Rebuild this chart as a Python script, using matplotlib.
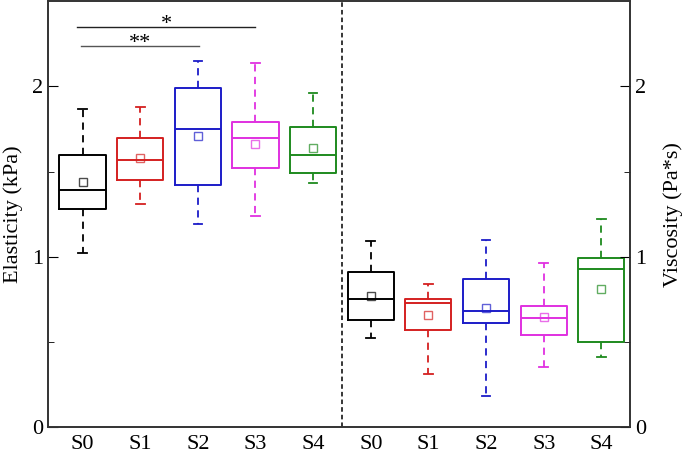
import matplotlib
matplotlib.use("Agg")
import matplotlib.pyplot as plt

plt.rcParams["font.family"] = ["Liberation Serif", "DejaVu Serif"]

groups = ["S0", "S1", "S2", "S3", "S4"]
colours = ["#000000", "#d42020", "#1c1cc8", "#e030e0", "#1e8a1e"]

# elasticity (kPa): whisker low, q1, median, q3, whisker high, mean
el_low = [1.02, 1.31, 1.19, 1.24, 1.43]
el_q1 = [1.28, 1.45, 1.42, 1.52, 1.49]
el_med = [1.39, 1.57, 1.75, 1.70, 1.60]
el_q3 = [1.60, 1.70, 1.99, 1.79, 1.76]
el_high = [1.87, 1.88, 2.15, 2.14, 1.96]
el_mean = [1.44, 1.58, 1.71, 1.66, 1.64]

# viscosity (Pa*s)
vi_low = [0.52, 0.31, 0.18, 0.35, 0.41]
vi_q1 = [0.63, 0.57, 0.61, 0.54, 0.50]
vi_med = [0.75, 0.73, 0.68, 0.64, 0.93]
vi_q3 = [0.91, 0.75, 0.87, 0.71, 0.99]
vi_high = [1.09, 0.84, 1.10, 0.96, 1.22]
vi_mean = [0.77, 0.66, 0.70, 0.645, 0.81]

# significance brackets: (x start, x end, label, height)
sig_bars = [(0.9, 4.0, "*", 2.35), (0.97, 3.02, "**", 2.24)]


def make_stats(low, q1, med, q3, high, mean):
    return [
        dict(whislo=a, q1=b, med=c, q3=d, whishi=e, mean=f, fliers=[])
        for a, b, c, d, e, f in zip(low, q1, med, q3, high, mean)
    ]


stats = make_stats(el_low, el_q1, el_med, el_q3, el_high, el_mean) + make_stats(
    vi_low, vi_q1, vi_med, vi_q3, vi_high, vi_mean
)
positions = list(range(1, len(stats) + 1))
box_colours = colours * 2

fig = plt.figure(figsize=(6.85, 4.57), dpi=100)
ax = fig.add_axes([0.070, 0.066, 0.850, 0.931])

art = ax.bxp(
    stats,
    positions=positions,
    widths=0.8,
    showmeans=True,
    showfliers=False,
    boxprops=dict(linewidth=1.4),
    medianprops=dict(linewidth=1.4),
    whiskerprops=dict(linewidth=1.3, linestyle=(0, (4, 3))),
    capprops=dict(linewidth=1.3),
    capwidths=0.15,
    meanprops=dict(marker="s", markerfacecolor="none", markersize=6, markeredgewidth=1.0),
)
for i, c in enumerate(box_colours):
    art["boxes"][i].set_color(c)
    art["medians"][i].set_color(c)
    art["means"][i].set_markeredgecolor(c)
    art["means"][i].set_alpha(0.7)
    for part in ("whiskers", "caps"):
        art[part][2 * i].set_color(c)
        art[part][2 * i + 1].set_color(c)

ax.axvline(5.5, color="black", linewidth=1.1, linestyle=(0, (3, 2)))

for x0, x1, label, h in sig_bars:
    col = "#222222" if label == "*" else "#555555"
    ax.plot([x0, x1], [h, h], color=col, linewidth=1.0)
    ax.text((x0 + x1) / 2, h - 0.012, label, ha="center", va="baseline", fontsize=16)

ax.set_xlim(0.4, 10.5)
ax.set_ylim(0, 2.5)
ax.set_xticks(positions)
ax.set_xticklabels(groups * 2)
ax.tick_params(axis="x", length=0, labelsize=16, pad=6)
ax.set_yticks([0, 1, 2])
ax.set_yticks([0.5, 1.5], minor=True)
ax.tick_params(axis="y", which="major", direction="in", length=7, labelsize=16)
ax.tick_params(axis="y", which="minor", direction="in", length=4)
ax.set_ylabel("Elasticity (kPa)", fontsize=16)
ax.yaxis.set_label_coords(-0.043, 0.5)

ax2 = ax.twinx()
ax2.set_ylim(0, 2.5)
ax2.set_yticks([0, 1, 2])
ax2.set_yticks([0.5, 1.5], minor=True)
ax2.tick_params(axis="y", which="major", direction="in", length=7, labelsize=16)
ax2.tick_params(axis="y", which="minor", direction="in", length=4)
ax2.set_ylabel("Viscosity (Pa*s)", fontsize=16)
ax2.yaxis.set_label_coords(1.056, 0.5)

for a in (ax, ax2):
    for s in a.spines.values():
        s.set_linewidth(1.2)
        s.set_color("#333333")

fig.savefig("out.png", dpi=100)
